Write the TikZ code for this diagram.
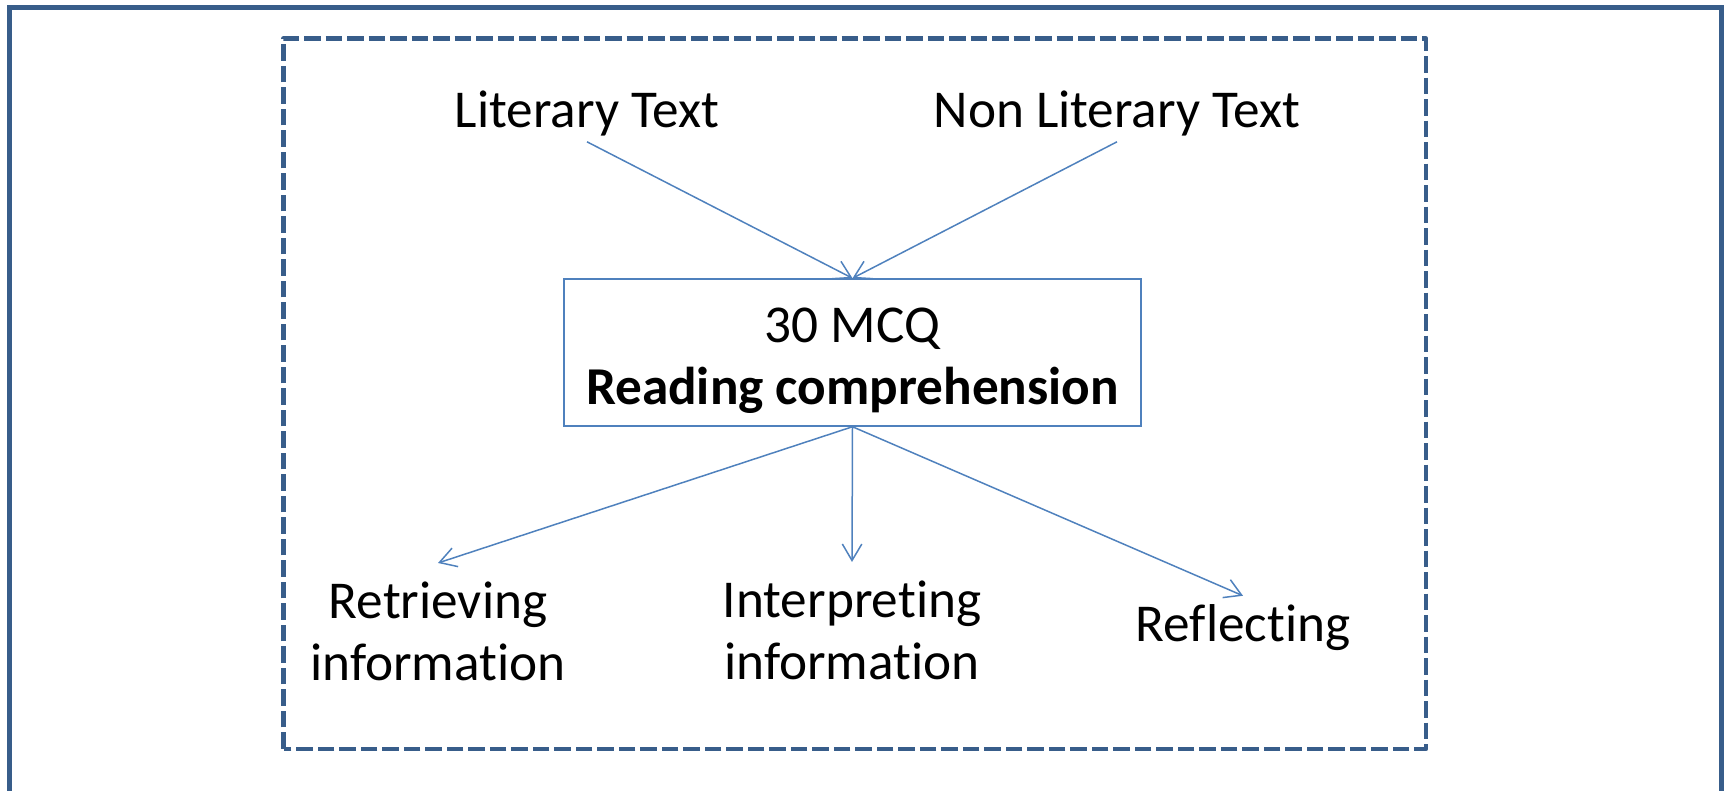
\documentclass[tikz,border=0pt]{standalone}
\usepackage{fontspec}
\setmainfont{Carlito}[Ligatures=NoCommon]
\usetikzlibrary{arrows.meta}

\definecolor{framecol}{HTML}{385D8A}
\definecolor{linkcol}{HTML}{4F81BD}

\begin{document}
\begin{tikzpicture}[
  font=\fontsize{30.3}{35.5}\selectfont,
  frame/.style={draw=framecol, line width=0.1cm},
  group/.style={draw=framecol, line width=0.09cm, dash pattern=on 0.33cm off 0.1cm, line join=round},
  source/.style={align=center},
  target/.style={align=center, inner sep=0.5em},
  twoline/.style={target, inner ysep=1.05em},
  task/.style={draw=linkcol, line width=0.03cm, minimum width=11.54cm, minimum height=2.94cm, align=center},
  arrow/.style={-{Straight Barb[length=3.3mm,width=3.9mm]}, draw=linkcol, line width=0.03cm}
]
\useasboundingbox (0,0) rectangle (34.54,15.82);
\clip (0,0) rectangle (34.54,15.82);

% outer frame, open at the bottom edge
\draw[frame] (0.19,-0.5) -- (0.19,15.66) -- (34.42,15.66) -- (34.42,-0.5);
% dashed group round the whole scheme
\draw[group] (5.67,0.84) rectangle (28.52,15.05);

\node[source] (lit) at (11.74,13.56) {Literary Text};
\node[source] (nonlit) at (22.34,13.56) {Non Literary Text};

% strut on the first line keeps the text a bit low in the box
\node[task] (mcq) at (17.05,8.77) {\rule{0pt}{0.95em}30 MCQ\\\textbf{Reading comprehension}};

\node[twoline] (retr) at (8.76,3.19) {Retrieving\\information};
\node[twoline] (interp) at (17.04,3.21) {Interpreting\\information};
\node[target] (refl) at (24.86,3.26) {Reflecting};

\draw[arrow] (lit.south) -- (mcq.north);
\draw[arrow] (nonlit.south) -- (mcq.north);
\draw[arrow] (mcq.south) -- (retr.north);
\draw[arrow] (mcq.south) -- (interp.north);
\draw[arrow] (mcq.south) -- (refl.north);
\end{tikzpicture}
\end{document}
